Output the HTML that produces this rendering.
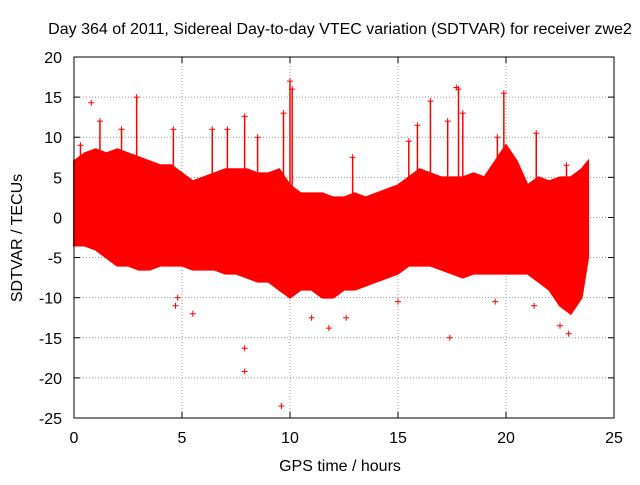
<!DOCTYPE html>
<html><head><meta charset="utf-8"><style>
body{margin:0;background:#fff}
svg text{font-family:"Liberation Sans",sans-serif;font-size:16px;fill:#000}
</style></head><body>
<svg id="c" width="640" height="480" xmlns="http://www.w3.org/2000/svg"></svg>
<script>
const hours=[0,0.5,1,1.5,2,2.5,3,3.5,4,4.5,5,5.5,6,6.5,7,7.5,8,8.5,9,9.5,10,10.5,11,11.5,12,12.5,13,13.5,14,14.5,15,15.5,16,16.5,17,17.5,18,18.5,19,19.5,20,20.5,21,21.5,22,22.5,23,23.5,23.8];
const upper=[7,8,8.5,8,8.5,8,7.5,7,6.5,6.5,5.5,4.5,5,5.5,6,6,6,5.5,5.5,6,4,3,3,3,2.5,2.5,3,2.5,3,3.5,4,5,6,5.5,5,5,5,5.5,5,7,9,7,4,5,4.5,5,5,6,7];
const lower=[-3.5,-3.5,-4,-5,-6,-6,-6.5,-6.5,-6,-6,-6,-6.5,-6.5,-6.5,-7,-7,-7.5,-8,-8,-9,-10,-9,-9,-10,-10,-9,-9,-8.5,-8,-7.5,-7,-6,-6,-6,-6.5,-7,-7.5,-7,-7,-7,-7,-7,-7,-8,-9,-11,-12,-10,-5];
const spikeX=[0.3,1.2,2.2,2.9,4.6,6.4,7.1,7.9,8.5,9.7,10.0,10.1,12.9,15.5,15.9,16.5,17.3,17.8,18.0,19.1,19.6,19.9,21.4,22.8];
const spikeTop=[9,12,11,15,11,11,11,12.6,10,13,17,16,7.5,9.5,11.5,14.5,12,16,13,5,10,15.5,10.5,6.5];
const outX=[0.8,4.7,4.8,5.5,7.9,7.9,9.6,11.0,11.8,12.6,15.0,17.4,17.7,19.5,21.3,22.5,22.9];
const outY=[14.3,-11,-10,-12,-16.3,-19.2,-23.5,-12.5,-13.8,-12.5,-10.5,-15,16.2,-10.5,-11,-13.5,-14.5];
const xTicks=[0,5,10,15,20,25], yTicks=[20,15,10,5,0,-5,-10,-15,-20,-25];
const X0=74,X1=614,Y0=57,Y1=418;
const xs=v=>X0+(v-0)/25*(X1-X0), ys=v=>Y0+(20-v)/45*(Y1-Y0);
const svg=document.getElementById('c'),NS='http://www.w3.org/2000/svg';
function mk(t,a,p){const e=document.createElementNS(NS,t);for(const k in a)e.setAttribute(k,a[k]);(p||svg).appendChild(e);return e;}
xTicks.forEach(v=>{const x=xs(v);
 if(v>0&&v<25){const g=mk('line',{x1:x,x2:x,y1:Y0,y2:Y1,stroke:'#999','stroke-dasharray':'1,2'});
 
 }
 const t=mk('text',{x:x,y:443,'text-anchor':'middle'});t.textContent=v;
 
 
 mk('line',{x1:x,x2:x,y1:Y1,y2:Y1-6,stroke:'#000'});mk('line',{x1:x,x2:x,y1:Y0,y2:Y0+6,stroke:'#000'});});
yTicks.forEach(v=>{const y=ys(v);
 if(v<20&&v>-25){const g=mk('line',{x1:X0,x2:X1,y1:y,y2:y,stroke:'#999','stroke-dasharray':'1,2'});
 
 }
 const t=mk('text',{x:62,y:y+6,'text-anchor':'end'});t.textContent=v;
 
 
 mk('line',{x1:X0,x2:X0+6,y1:y,y2:y,stroke:'#000'});mk('line',{x1:X1,x2:X1-6,y1:y,y2:y,stroke:'#000'});});
let pts=hours.map((h,i)=>xs(h)+','+ys(upper[i])).concat(hours.slice().reverse().map((h,j)=>{const i=hours.length-1-j;return xs(h)+','+ys(lower[i]);}));
const band=mk('polygon',{points:pts.join(' '),fill:'#f00',stroke:'#f00','stroke-width':2});


function plus(x,y){mk('path',{d:`M${x-3},${y}h6M${x},${y-3}v6`,stroke:'#f00','stroke-width':1});}
spikeX.forEach((h,i)=>{const x=xs(h);
 const l=mk('line',{x1:x,x2:x,y1:ys(0),y2:ys(spikeTop[i]),stroke:'#f00','stroke-width':1.5});
 
 
 plus(x,ys(spikeTop[i]));});
outX.forEach((h,i)=>plus(xs(h),ys(outY[i])));
const fr=mk('rect',{x:X0,y:Y0,width:X1-X0,height:Y1-Y0,fill:'none',stroke:'#000'});


const ti=mk('text',{x:340,y:34,'text-anchor':'middle'});ti.textContent='Day 364 of 2011, Sidereal Day-to-day VTEC variation (SDTVAR) for receiver zwe2';


const xt=mk('text',{x:340,y:471,'text-anchor':'middle'});xt.textContent='GPS time / hours';


const yt=mk('text',{x:22,y:238,'text-anchor':'middle',transform:'rotate(-90 22 238)'});yt.textContent='SDTVAR / TECUs';


</script>
</body></html>
